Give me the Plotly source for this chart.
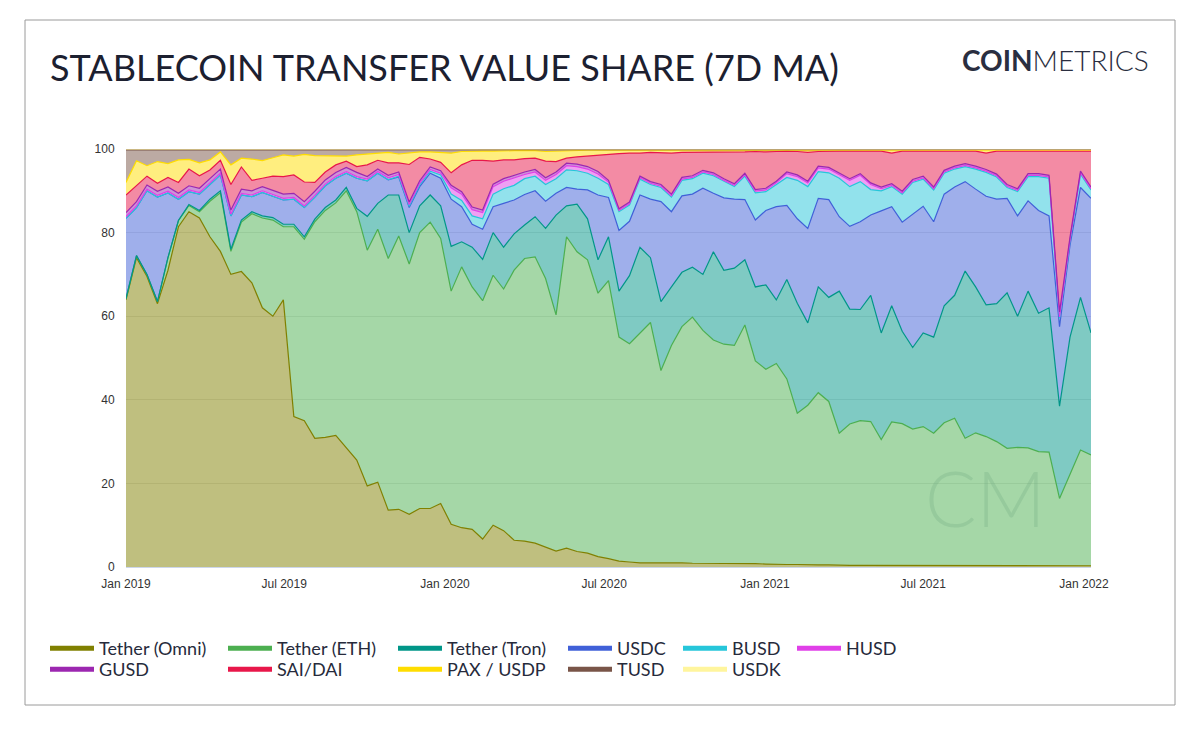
import pandas as pd
import plotly.graph_objects as go

# 12-day samples, Jan 2019 -> Jan 2022
dates = pd.date_range("2019-01-01", periods=93, freq="12D")

omni = [63.9, 74, 69.5, 63, 71, 81.4, 85, 83.5, 79, 75.5, 70, 70.7, 68, 62, 60, 63.9, 36, 35, 30.8, 31, 31.5, 28.5, 25.6,
        19.4, 20.3, 13.6, 13.8, 12.6, 14, 14, 15.2, 10.2, 9.4, 9, 6.7, 10, 8.7, 6.4, 6.2, 5.7, 4.7, 3.8, 4.5, 3.7, 3.3, 2.5,
        2.0, 1.4, 1.2, 1.0, 1.0, 1.0, 1.1, 1.0, 0.9, 0.9, 0.9, 0.8, 0.8, 0.8, 0.8, 0.7, 0.6, 0.6, 0.6, 0.5, 0.5, 0.5, 0.4,
        0.4, 0.4, 0.4, 0.4, 0.4, 0.4, 0.4, 0.3, 0.3, 0.3, 0.3, 0.3, 0.3, 0.3, 0.3, 0.3, 0.3, 0.3, 0.3, 0.3, 0.3, 0.3, 0.3, 0.3]
eth = [0.3, 0.5, 0.5, 0.5, 3, 1.5, 1.5, 1.5, 8.5, 14, 5.5, 11.8, 16.5, 21.5, 23, 17.5, 45.4, 43.4, 51.8, 54.3, 55.6, 61.5, 59.4,
       56.4, 60.5, 60.2, 65.4, 59.9, 66, 68.5, 63.4, 55.8, 62.4, 58, 57, 59.8, 57.8, 64.6, 67.6, 68.5, 64.3, 56.5, 74.5, 71.7, 70.2, 63,
       66.5, 53.6, 52.2, 54.9, 57.5, 46, 51.9, 56.5, 58.9, 55.7, 53.4, 52.5, 52.2, 57.1, 48.5, 46.6, 48.1, 44.4, 36.2, 38.2, 41.2, 39.1, 31.6,
       33.8, 34.6, 34.4, 30.1, 34.3, 33.9, 32.6, 33.3, 31.7, 34.2, 35.3, 30.5, 31.8, 30.9, 29.7, 28.1, 28.3, 28.2, 27.3, 27.2, 16.1, 22.1, 27.7, 26.5]
tron = [0, 0, 0, 0, 0, 0, 0.2, 0.3, 0.5, 0.5, 0.5, 0.5, 0.5, 0.5, 0.6, 0.6, 0.6, 0.6, 0.6, 0.7, 0.7, 0.8, 0.8,
        8.1, 6.2, 15.2, 9.8, 7.5, 6.4, 6.5, 7.8, 10.7, 6, 9.5, 9.9, 10.2, 10, 8.7, 8, 9.6, 12, 23.9, 7.4, 11.4, 9.8, 8,
        10.5, 11, 16.3, 20.6, 15.5, 16.5, 14, 13, 11.9, 13.4, 21.1, 17.7, 18.5, 15.6, 17.7, 20.2, 15.2, 23.8, 26.3, 19.7, 25.3, 24.9, 34,
        27.5, 26.6, 30.2, 25.5, 27.8, 22.1, 19.5, 22.4, 23, 28, 29.4, 40, 34.9, 31.5, 33, 37.2, 31.4, 37.5, 33.1, 34.5, 22.1, 32.6, 36.5, 29.2]
usdc = [19.2, 11.5, 20, 25, 15.5, 5.1, 3.1, 3.9, 3.5, 3.8, 8, 6, 3.6, 5.6, 5.1, 5.8, 6, 7, 5.3, 5.2, 5.2, 3.4, 7.2,
        8.5, 7.2, 3.6, 4.3, 6, 4.6, 5.2, 6.6, 11.3, 8.4, 5.5, 7.2, 6.2, 10.5, 8.1, 7.3, 6.2, 6.5, 5.2, 4.4, 3.6, 6.9, 15.5,
        9.4, 14.5, 13, 12.5, 14, 23.9, 18, 18.3, 17.5, 20.6, 14, 17.3, 16.5, 14.4, 16, 17.8, 22.3, 17.7, 20.2, 22.6, 21.2, 23.4, 17.8,
        19.8, 21, 19.2, 29.2, 23.7, 26.1, 32, 30.3, 27.6, 26.7, 25.9, 21.4, 23.4, 26, 25, 22.6, 24, 21.6, 24.6, 22, 19, 22, 26.3, 32.2]
busd = [0, 0, 0, 0, 0, 0, 0, 0, 0, 0, 0, 0, 0, 0, 0, 0, 0, 0, 0, 0, 0, 0, 0,
        0, 0, 0.1, 0.2, 0.3, 0.4, 0.5, 0.8, 1.2, 1.5, 2.0, 2.5, 3.0, 3.5, 3.5, 3.8, 3.5, 4.0, 3.5, 4.2, 4.4, 4.0, 4.0,
        3.1, 4.5, 3.9, 3.8, 3.5, 3.4, 3.5, 3.7, 3.7, 3.6, 4.2, 3.9, 3.0, 5.6, 6.5, 4.5, 5.3, 6.7, 9.2, 10, 6.4, 6.4, 9.2,
        9.5, 9.6, 6.1, 4.8, 4.8, 6.7, 7.5, 6.5, 7.6, 5.0, 4.3, 3.6, 4.8, 5.7, 5.3, 2.6, 5.8, 5.8, 8.1, 9, 2.0, 1.0, 3.2, 2.0]
husd = [0.4, 0.4, 0.4, 0.4, 0.4, 0.4, 0.4, 0.4, 0.4, 0.4, 0.4, 0.4, 0.4, 0.4, 0.4, 0.4, 0.4, 0.4, 0.4, 0.4, 0.4, 0.4, 0.4,
        0.4, 0.4, 0.4, 0.4, 0.4, 0.4, 0.4, 0.4, 1.5, 1.5, 1.5, 1.5, 1.8, 1.8, 1.8, 1.0, 1.0, 1.0, 1.0, 1.0, 1.0, 1.0, 1.0,
        0.6, 0.3, 0.3, 0.3, 0.3, 0.3, 0.3, 0.3, 0.3, 0.3, 0.3, 0.3, 0.3, 0.3, 0.4, 0.4, 0.4, 0.9, 0.9, 0.9, 0.9, 0.9, 0.9,
        1.5, 1.5, 1.2, 0.5, 0.3, 0.3, 0.3, 0.3, 0.3, 0.3, 0.3, 0.3, 0.3, 0.3, 0.3, 0.3, 0.3, 0.3, 0.3, 0.3, 0.3, 0.3, 0.3, 0.3]
gusd = [1.0, 1.0, 1.0, 1.0, 1.0, 1.0, 1.0, 1.0, 1.0, 1.0, 1.0, 1.0, 1.0, 1.0, 1.0, 1.0, 1.0, 1.0, 1.0, 1.0, 1.0, 1.0, 1.0,
        0.6, 0.6, 0.6, 0.6, 0.6, 0.6, 0.6, 0.6, 0.6, 0.6, 0.6, 0.6, 0.6, 0.6, 0.6, 0.6, 0.6, 0.6, 0.6, 0.6, 0.6, 0.6, 0.6,
        0.4, 0.4, 0.4, 0.4, 0.4, 0.4, 0.4, 0.4, 0.4, 0.4, 0.4, 0.4, 0.4, 0.4, 0.4, 0.4, 0.4, 0.4, 0.4, 0.4, 0.4, 0.4, 0.4,
        0.4, 0.4, 0.4, 0.4, 0.4, 0.4, 0.4, 0.4, 0.4, 0.4, 0.4, 0.4, 0.4, 0.4, 0.4, 0.4, 0.4, 0.4, 0.4, 0.4, 1.2, 0.6, 0.4, 0.4]
dai = [4.2, 3.8, 2.1, 1.9, 2.3, 2.6, 4.0, 3.0, 2.1, 2.1, 6.1, 5.3, 2.5, 2.0, 3.4, 4.2, 4.4, 4.7, 2.1, 1.9, 1.8, 1.5, 1.4,
       2.8, 2.1, 3.0, 2.2, 9.0, 5.6, 1.9, 2.0, 3.0, 6.4, 11.2, 11.9, 5.5, 4.5, 3.7, 3.2, 2.7, 4.0, 2.5, 1.2, 1.7, 2.5, 4.0,
       6.3, 13.2, 11.7, 5.5, 7.0, 7.6, 9.8, 6.0, 5.6, 4.4, 5.0, 6.3, 7.6, 5.1, 9.1, 8.7, 7.1, 5.0, 5.6, 6.9, 3.5, 3.9, 5.2,
       6.6, 5.4, 7.6, 8.6, 7.3, 9.6, 6.8, 6.0, 8.6, 4.6, 3.6, 3.0, 3.6, 3.9, 5.5, 8.0, 9.0, 5.4, 5.4, 5.8, 38.5, 20.6, 4.8, 8.6]
pax = [3.0, 6.0, 2.5, 5.2, 3.3, 5.4, 2.3, 3.1, 2.4, 2.0, 4.7, 2.1, 5.1, 4.2, 4.4, 5.2, 4.5, 6.6, 6.4, 3.9, 2.1, 1.2, 2.8,
       2.6, 1.7, 2.5, 2.1, 2.7, 1.3, 1.7, 2.4, 4.7, 3.2, 2.2, 2.2, 2.4, 2.2, 2.2, 1.9, 1.8, 2.3, 2.5, 1.8, 1.5, 1.4, 1.1,
       0.9, 0.8, 0.7, 0.7, 0.5, 0.6, 0.7, 0.5, 0.5, 0.4, 0.4, 0.5, 0.4, 0.4, 0.3, 0.4, 0.3, 0.2, 0.3, 0.5, 0.3, 0.2, 0.2,
       0.3, 0.3, 0.3, 0.3, 0.8, 0.3, 0.3, 0.3, 0.3, 0.3, 0.3, 0.3, 0.3, 0.8, 0.3, 0.3, 0.3, 0.3, 0.3, 0.3, 0.3, 0.3, 0.3, 0.3]
tusd = [7.8, 2.6, 3.8, 2.8, 3.3, 2.4, 2.3, 3.1, 2.4, 0.5, 3.6, 2.0, 2.2, 2.6, 1.9, 1.2, 1.5, 1.1, 1.4, 1.4, 1.5, 1.5, 1.2,
        1.0, 0.8, 0.6, 1.0, 0.8, 0.5, 0.5, 0.6, 0.8, 0.4, 0.3, 0.3, 0.3, 0.2, 0.2, 0.2, 0.2, 0.4, 0.3, 0.2, 0.2, 0.1, 0.1,
        0.2, 0.2, 0.2, 0.2, 0.2, 0.2, 0.2, 0.2, 0.2, 0.2, 0.2, 0.2, 0.2, 0.2, 0.2, 0.2, 0.2, 0.2, 0.2, 0.2, 0.2, 0.2, 0.2,
        0.1, 0.1, 0.1, 0.1, 0.1, 0.1, 0.1, 0.1, 0.1, 0.1, 0.1, 0.1, 0.1, 0.1, 0.1, 0.1, 0.1, 0.1, 0.1, 0.1, 0.1, 0.1, 0.1, 0.1]
usdk = [0.2, 0.2, 0.2, 0.2, 0.2, 0.2, 0.2, 0.2, 0.2, 0.2, 0.2, 0.2, 0.2, 0.2, 0.2, 0.2, 0.2, 0.2, 0.2, 0.2, 0.2, 0.2, 0.2,
        0.2, 0.2, 0.2, 0.2, 0.2, 0.2, 0.2, 0.2, 0.2, 0.2, 0.2, 0.2, 0.2, 0.2, 0.2, 0.2, 0.2, 0.2, 0.2, 0.2, 0.2, 0.2, 0.2,
        0.1, 0.1, 0.1, 0.1, 0.1, 0.1, 0.1, 0.1, 0.1, 0.1, 0.1, 0.1, 0.1, 0.1, 0.1, 0.1, 0.1, 0.1, 0.1, 0.1, 0.1, 0.1, 0.1,
        0.1, 0.1, 0.1, 0.1, 0.1, 0.1, 0.1, 0.1, 0.1, 0.1, 0.1, 0.1, 0.1, 0.1, 0.1, 0.1, 0.1, 0.1, 0.1, 0.1, 0.1, 0.1, 0.1, 0.1]

names = ['Tether (Omni)', 'Tether (ETH)', 'Tether (Tron)', 'USDC', 'BUSD', 'HUSD',
         'GUSD', 'SAI/DAI', 'PAX / USDP', 'TUSD', 'USDK']
series = [omni, eth, tron, usdc, busd, husd, gusd, dai, pax, tusd, usdk]
colors = ['#808000', '#4caf50', '#009688', '#4060d8', '#26c6da', '#e040e8',
          '#9c27b0', '#e8174a', '#ffdd00', '#795548', '#fff59d']
# legend grid: column / row of each entry
legend_col = [0, 1, 2, 3, 4, 5, 0, 1, 2, 3, 4]
legend_row = [0, 0, 0, 0, 0, 0, 1, 1, 1, 1, 1]
col_px = [45, 223, 393, 563, 678, 792]
row_px = [630, 651]

tick_dates = ['2019-01-01', '2019-07-01', '2020-01-01', '2020-07-01', '2021-01-01', '2021-07-01', '2022-01-01']
tick_labels = ['Jan 2019', 'Jul 2019', 'Jan 2020', 'Jul 2020', 'Jan 2021', 'Jul 2021', 'Jan 2022']

# page has an 8px body margin, so everything is placed 8px up/left
OFF = 8
W, H = 1200, 729
L, T = 126 - OFF, 149 - OFF
R, B = W - (1091 - OFF), H - (567 - OFF)
pw, ph = W - L - R, H - T - B


def px_x(x):
    return (x - OFF - L) / pw


def px_y(y):
    return (H - B - (y - OFF)) / ph


def rgba(h, a):
    h = h.lstrip('#')
    return 'rgba(%d,%d,%d,%s)' % (int(h[0:2], 16), int(h[2:4], 16), int(h[4:6], 16), a)


fig = go.Figure()

for name, vals, c in zip(names, series, colors):
    fig.add_trace(go.Scatter(x=dates, y=vals, name=name, mode='lines', stackgroup='one',
                             groupnorm='percent', line=dict(color=c, width=1.2),
                             fillcolor=rgba(c, 0.5), showlegend=False))

# legend-only entries, each in its own legend box so the grid matches
legend_font = dict(family='Lato', size=18, color='#262a3b')
for k, (name, c) in enumerate(zip(names, colors)):
    key = 'legend' if k == 0 else 'legend%d' % (k + 1)
    fig.add_trace(go.Scatter(x=[None], y=[None], mode='lines', name=name,
                             line=dict(color=c, width=5), legend=key))
    fig.update_layout({key: dict(x=px_x(col_px[legend_col[k]]), y=px_y(row_px[legend_row[k]]),
                                 xanchor='left', yanchor='top', orientation='v',
                                 font=legend_font, itemwidth=44,
                                 bgcolor='rgba(0,0,0,0)', itemclick=False)})

fig.update_layout(
    width=W, height=H,
    margin=dict(l=L, r=R, t=T, b=B),
    paper_bgcolor='white', plot_bgcolor='white',
    showlegend=True,
    xaxis=dict(range=[dates[0], dates[-1]], tickvals=tick_dates, ticktext=tick_labels,
               showgrid=False, showline=True, linecolor='#ccd6eb', linewidth=1,
               ticks='outside', ticklen=6, tickcolor='rgba(0,0,0,0)',
               tickfont=dict(family='Liberation Sans', size=12, color='#333333')),
    yaxis=dict(range=[0, 100], tickvals=[0, 20, 40, 60, 80, 100],
               showgrid=True, gridcolor='#e6e6e6', zeroline=False, showline=False,
               ticks='outside', ticklen=8, tickcolor='rgba(0,0,0,0)',
               tickfont=dict(family='Liberation Sans', size=12, color='#333333')),
    annotations=[
        dict(text='STABLECOIN TRANSFER VALUE SHARE (7D MA)', xref='paper', yref='paper',
             x=px_x(48), y=px_y(67), xanchor='left', yanchor='middle', showarrow=False,
             font=dict(family='Lato', size=36, color='#1c2030')),
        dict(text='<b>COIN</b>METRICS', xref='paper', yref='paper',
             x=px_x(1151), y=px_y(60), xanchor='right', yanchor='middle', showarrow=False,
             font=dict(family='Lato', size=28, color='#2a2e40', weight=300)),
        dict(text='CM', xref='paper', yref='paper',
             x=px_x(985), y=px_y(497), xanchor='center', yanchor='middle', showarrow=False,
             font=dict(family='Lato', size=76, color='rgba(110,170,130,0.28)', weight=300)),
    ],
    shapes=[dict(type='rect', xref='paper', yref='paper',
                 x0=px_x(25), x1=px_x(1175), y0=px_y(705), y1=px_y(20),
                 line=dict(color='#9a9a9a', width=1), fillcolor='rgba(0,0,0,0)', layer='below')],
)

fig.write_html('out.html')
